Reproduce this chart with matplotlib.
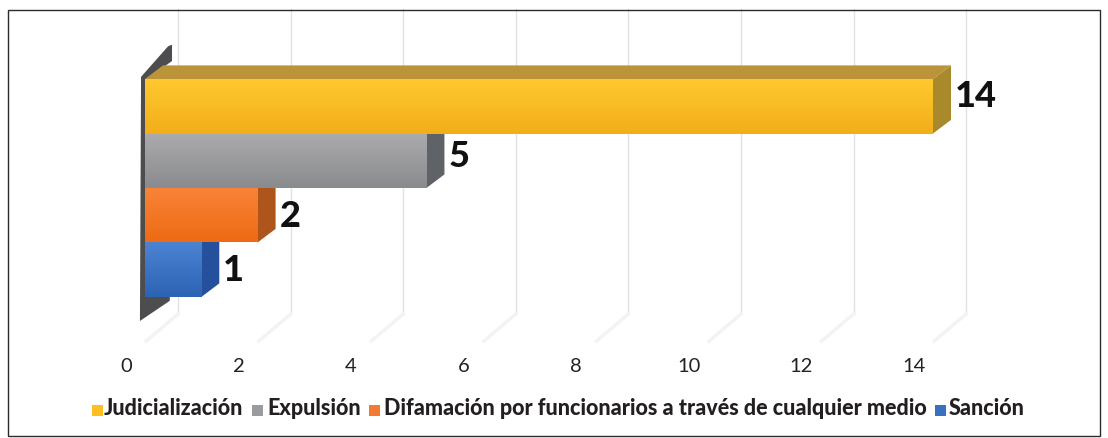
import matplotlib
matplotlib.use('Agg')
from matplotlib import pyplot as plt
from matplotlib.colors import LinearSegmentedColormap
from matplotlib.patches import Polygon, Rectangle
import numpy as np

categories = ['Judicialización', 'Expulsión', 'Difamación por funcionarios a través de cualquier medio', 'Sanción']
values = [14, 5, 2, 1]
ticks = [0, 2, 4, 6, 8, 10, 12, 14]

W, H = 1108, 439
front = [('#ffc92e', '#f2ae1a'), ('#ababad', '#8a8b8e'), ('#f98438', '#ee6a14'), ('#4c83d2', '#2c63b2')]
side = ['#a88a2c', '#5f6368', '#ad551b', '#24509c']
top_col = '#bb9439'
legend_sq = ['#fdbf22', '#9a9b9e', '#f47a32', '#3a70c0']
legend_x = [92, 252, 369, 935]
legend_tx = [104, 267, 384, 949]
label_dy = [-0.2, -0.09, 0, 0]

# depth of the fake 3d, in data units
dx, dy = 0.32, 0.25
grid_dx = 0.59

fig = plt.figure(figsize=(W / 100, H / 100), dpi=100)
fig.add_artist(Rectangle((7.5 / W, 1 - 436.5 / H), 1092 / W, 426 / H, transform=fig.transFigure,
                         fill=False, edgecolor='#2b2b2b', linewidth=1))

ax = fig.add_axes([145 / W, 1 - 298 / H, 788 / W, 218 / H])
ax.axis('off')

# back wall grid and floor lines
y_top, y_back, y_front = -1.29, 4.31, 4.81
for t in ticks:
    ax.plot([t + grid_dx, t + grid_dx], [y_top, y_back], color='#e2e2e2', lw=1, clip_on=False, zorder=1)
    ax.plot([t + grid_dx, t + 0.02], [y_back, y_front], color='#f3f3f3', lw=2.5, clip_on=False, zorder=1)

# dark wall sliver
wall = [(-0.07, -0.04), (0.41, -0.6), (0.48, -0.63), (0.48, -0.33), (0.09, -0.04), (0.0, 0.04), (0.0, 4.0),
        (0.44, 3.96), (0.44, 4.07), (-0.09, 4.44)]
ax.add_patch(Polygon(wall, closed=True, facecolor='#4d4d50', edgecolor='none', clip_on=False, zorder=2.1))

# bottom bar first so each bar covers the top of the side face below it
for i in reversed(range(len(values))):
    v = values[i]
    z = 3 + (len(values) - i)
    ax.add_patch(Polygon([(v, i), (v + dx, i - dy), (v + dx, i + 1 - dy), (v, i + 1)], closed=True,
                         facecolor=side[i], edgecolor='none', clip_on=False, zorder=z))
    if i == 0:
        ax.add_patch(Polygon([(0, i), (dx, i - dy), (v + dx, i - dy), (v, i)], closed=True,
                             facecolor=top_col, edgecolor='none', clip_on=False, zorder=z))
    cmap = LinearSegmentedColormap.from_list('c%d' % i, front[i])
    ax.imshow(np.linspace(0, 1, 64).reshape(-1, 1), extent=[0, v, i + 1, i], cmap=cmap, aspect='auto',
              clip_on=False, zorder=z + 0.5)
    ax.text(v + dx + 0.07, i + 0.5 + label_dy[i], str(v), fontsize=26, fontweight=900, color='#111111',
            family=['Lato', 'DejaVu Sans'], ha='left', va='center', clip_on=False, zorder=20)

ax.set_xlim(0, 14)
ax.set_ylim(4, 0)

for t in ticks:
    ax.text(t - 0.34, 5.25, str(t), fontsize=14.5, color='#222222', family=['Lato', 'DejaVu Sans'],
            ha='center', va='center')

# legend placed by hand, it sits in one row right under the axis
for name, col, x, tx in zip(categories, legend_sq, legend_x, legend_tx):
    fig.add_artist(Rectangle((x / W, 1 - 417 / H), 11 / W, 11 / H, transform=fig.transFigure,
                             facecolor=col, edgecolor='none'))
    fig.text(tx / W, 1 - 409 / H, name, fontsize=15.5, fontweight=900, color='#231f20',
             family=['Lato', 'DejaVu Sans'], ha='left', va='center')

fig.savefig('out.png', dpi=100)
